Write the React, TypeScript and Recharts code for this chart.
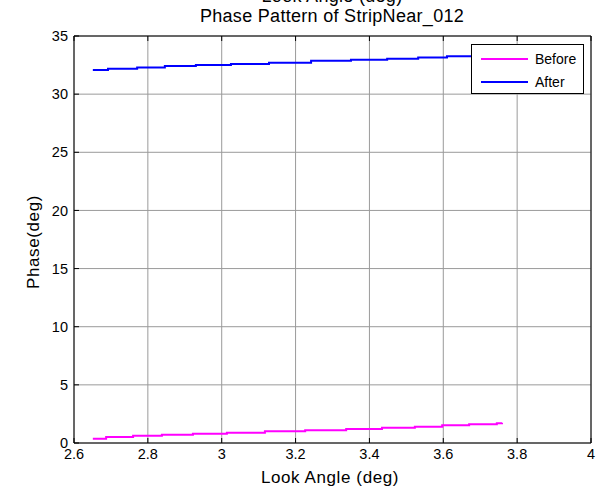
import { CartesianGrid, Line, LineChart, XAxis, YAxis } from 'recharts'

const FONT = '"Liberation Sans", Arial, Helvetica, sans-serif'

// look angle (deg) and phase (deg)
const beforeAngles = [2.651, 2.687, 2.760, 2.838, 2.922, 3.014, 3.117, 3.226, 3.337, 3.434, 3.523, 3.597, 3.670, 3.745, 3.759]
const beforePhase = [0.37, 0.52, 0.63, 0.72, 0.80, 0.89, 1.00, 1.09, 1.20, 1.32, 1.40, 1.52, 1.61, 1.69, 1.75]

const afterAngles = [2.651, 2.692, 2.771, 2.846, 2.930, 3.025, 3.128, 3.242, 3.350, 3.448, 3.532, 3.610, 3.690, 3.759]
const afterPhase = [32.07, 32.18, 32.30, 32.41, 32.50, 32.59, 32.70, 32.87, 32.96, 33.04, 33.16, 33.25, 33.35, 33.35]

const xTicks = [2.6, 2.8, 3.0, 3.2, 3.4, 3.6, 3.8, 4.0]
const yTicks = [0, 5, 10, 15, 20, 25, 30, 35]

const seriesNames = ['Before', 'After']
const seriesColors = ['#ff00ff', '#0000ff']

const beforeData = beforeAngles.map((a, i) => ({ angle: a, phase: beforePhase[i] }))
const afterData = afterAngles.map((a, i) => ({ angle: a, phase: afterPhase[i] }))

const fmt = (v: number) => String(Number(v.toFixed(1)))

const LegendBox = () => (
  <div style={{ position: 'absolute', left: 471, top: 44, width: 111, height: 48, border: '1px solid #000', background: '#fff', fontFamily: FONT, fontSize: 14, color: '#000' }}>
    {seriesNames.map((name, i) => (
      <div key={name} style={{ display: 'flex', alignItems: 'center', height: 23, marginTop: i === 0 ? 2 : 0 }}>
        <span style={{ display: 'inline-block', width: 47, height: 2, background: seriesColors[i], marginLeft: 9, marginRight: 7 }} />
        <span>{name}</span>
      </div>
    ))}
  </div>
)

const tickStyle = { fill: '#000', fontSize: 14.5, fontFamily: FONT }

const App = () => {
  return (
    <div style={{ position: 'absolute', left: 0, top: 0, width: 602, height: 489, background: '#fff' }}>
      <LineChart width={602} height={489} margin={{ top: 35, right: 10, bottom: 16, left: 14 }}>
        <CartesianGrid xAxisId="b" yAxisId="l" stroke="#9a9a9a" strokeWidth={1} horizontalValues={yTicks} verticalValues={xTicks} />
        <XAxis xAxisId="b" dataKey="angle" type="number" domain={[2.6, 4]} ticks={xTicks} tickFormatter={fmt}
          height={30} tickSize={-5} tickMargin={11} stroke="#000" allowDataOverflow tick={tickStyle} />
        <XAxis xAxisId="t" orientation="top" dataKey="angle" type="number" domain={[2.6, 4]} ticks={xTicks}
          tickFormatter={() => ''} height={1} tickSize={-5} stroke="#000" allowDataOverflow />
        <YAxis yAxisId="l" type="number" domain={[0, 35]} ticks={yTicks} width={60} tickSize={-5} tickMargin={11}
          stroke="#000" tick={tickStyle} />
        <YAxis yAxisId="r" orientation="right" type="number" domain={[0, 35]} ticks={yTicks} width={1} tickSize={-5}
          tickFormatter={() => ''} stroke="#000" />
        <Line xAxisId="b" yAxisId="l" data={beforeData} dataKey="phase" name="Before" type="stepAfter"
          stroke={seriesColors[0]} strokeWidth={2} dot={false} isAnimationActive={false} />
        <Line xAxisId="b" yAxisId="l" data={afterData} dataKey="phase" name="After" type="stepAfter"
          stroke={seriesColors[1]} strokeWidth={2} dot={false} isAnimationActive={false} />
      </LineChart>
      <LegendBox />
      <svg width={602} height={489} style={{ position: 'absolute', left: 0, top: 0, pointerEvents: 'none' }}>
        <g fontFamily={FONT} fill="#000">
          <text x={332} y={2} fontSize={18} letterSpacing={0.3} textAnchor="middle">Look Angle (deg)</text>
          <text x={332} y={22} fontSize={18} letterSpacing={0.3} textAnchor="middle">Phase Pattern of StripNear_012</text>
          <text x={330} y={483} fontSize={17} letterSpacing={0.6} textAnchor="middle">Look Angle (deg)</text>
          <text x={39} y={242} fontSize={17} letterSpacing={0.6} textAnchor="middle" transform="rotate(-90 39 242)">Phase(deg)</text>
        </g>
      </svg>
    </div>
  )
}

export default App
